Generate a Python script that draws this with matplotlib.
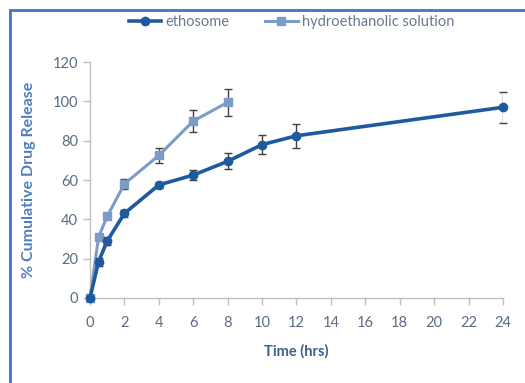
import matplotlib
matplotlib.use('Agg')
import matplotlib.pyplot as plt
from matplotlib.patches import Rectangle
from matplotlib.lines import Line2D

plt.rcParams['font.family'] = ['Lato', 'DejaVu Sans']

# ethosome
etho_t = [0, 0.5, 1, 2, 4, 6, 8, 10, 12, 24]
etho_y = [0, 18.5, 29, 43, 57.5, 62.5, 69.5, 78, 82.5, 97]
etho_err = [0, 2, 2, 2, 1.5, 2.5, 4, 5, 6, 8]

# hydroethanolic solution
hydro_t = [0, 0.5, 1, 2, 4, 6, 8]
hydro_y = [0, 31, 41.5, 58, 72.5, 90, 99.5]
hydro_err = [0, 1.5, 1.5, 2.5, 4, 5.5, 7]

xticks = list(range(0, 25, 2))
yticks = [0, 20, 40, 60, 80, 100, 120]

c_etho = '#1f5a9e'
c_hydro = '#7b9cc9'

fig = plt.figure(figsize=(5.25, 3.83), dpi=100)
ax = fig.add_axes([0.1714, 0.222, 0.7867, 0.616])

# border around the chart
fig.patches.append(Rectangle((10 / 525, -0.1), 1.2, 1 - 10 / 383 + 0.1,
                             transform=fig.transFigure, fill=False,
                             edgecolor='#4472c4', linewidth=2))

for art in ax.errorbar(hydro_t, hydro_y, yerr=hydro_err, color=c_hydro, marker='s',
                       markersize=6, linewidth=2.2, ecolor='#404040', elinewidth=1,
                       capsize=3, zorder=2).lines:
    pass
ax.errorbar(etho_t, etho_y, yerr=etho_err, color=c_etho, marker='o',
            markersize=6, linewidth=2.6, ecolor='#404040', elinewidth=1,
            capsize=3, zorder=3)
for ln in ax.lines:
    ln.set_clip_on(False)

ax.set_xlim(0, 24)
ax.set_ylim(0, 120)
ax.set_xticks(xticks)
ax.set_yticks(yticks)

for s in ['top', 'right']:
    ax.spines[s].set_visible(False)
for s in ['left', 'bottom']:
    ax.spines[s].set_color('#c0c0c0')
    ax.spines[s].set_linewidth(1)
ax.tick_params(colors='#c0c0c0', labelcolor='#5b6b84', labelsize=10.5,
               length=5, width=1)
ax.tick_params(axis='x', pad=8)

ax.set_xlabel('Time (hrs)', fontsize=10.5, fontweight='bold', color='#3c5f8f',
              labelpad=10)
ax.set_ylabel('% Cumulative Drug Release', fontsize=11.5, fontweight='bold',
              color='#4f7fbf', labelpad=12)

handles = [Line2D([], [], color=c_etho, marker='o', markersize=6, linewidth=2.6),
           Line2D([], [], color=c_hydro, marker='s', markersize=6, linewidth=2.2)]
labels = ['ethosome', 'hydroethanolic solution']
leg = fig.legend(handles, labels, loc='center', bbox_to_anchor=(0.555, 0.943),
                 ncol=2, frameon=False, fontsize=10.5, handlelength=2.2,
                 columnspacing=2.5, handletextpad=0.3)
for t in leg.get_texts():
    t.set_color('#6b7a90')

fig.savefig('out.png', dpi=100)
